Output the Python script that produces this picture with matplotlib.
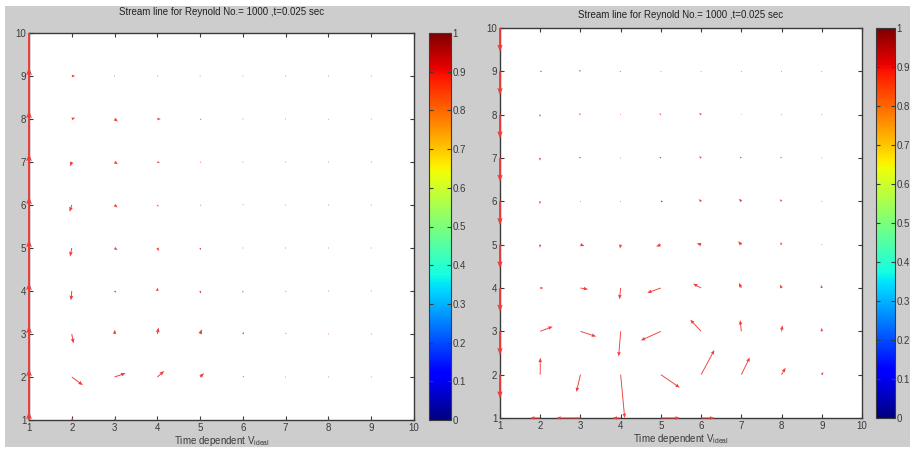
import numpy as np
import matplotlib
matplotlib.use('Agg')
import matplotlib.pyplot as plt
from matplotlib.patches import Rectangle
import matplotlib.colorbar as mcolorbar
import matplotlib.colors as mcolors

plt.rcParams['font.family'] = ['Liberation Sans', 'DejaVu Sans']

# 网格 (x=2..9, y=1..9)
grid_x = [2, 3, 4, 5, 6, 7, 8, 9]
grid_y = [1, 2, 3, 4, 5, 6, 7, 8, 9]

# 左图速度分量
left_u = [
    [0.03, 0.04, 0.0, 0.0, 0.0, 0.0, 0.0, 0.0],
    [0.26, 0.26, 0.16, 0.09, 0.03, 0.01, 0.01, 0.0],
    [0.04, 0.01, 0.03, 0.04, 0.02, 0.01, 0.0, 0.0],
    [-0.02, 0.04, 0.0, 0.02, 0.0, 0.01, 0.0, 0.0],
    [-0.04, 0.07, 0.04, 0.02, 0.01, 0.01, 0.01, 0.0],
    [-0.05, 0.07, 0.03, 0.03, 0.02, 0.01, 0.01, 0.01],
    [-0.04, 0.08, 0.06, 0.03, 0.01, 0.01, 0.01, 0.01],
    [0.08, 0.08, 0.08, 0.03, 0.01, 0.01, 0.02, 0.01],
    [0.08, 0.02, 0.02, 0.01, 0.01, 0.01, 0.01, 0.01],
]
left_v = [
    [0.05, 0.05, 0.0, 0.0, 0.0, 0.0, 0.0, 0.0],
    [-0.19, 0.09, 0.14, 0.09, 0.02, 0.01, 0.0, 0.0],
    [-0.22, 0.1, 0.15, 0.11, 0.05, 0.03, 0.0, 0.0],
    [-0.22, -0.04, 0.08, -0.06, -0.04, -0.03, 0.0, 0.0],
    [-0.2, -0.05, -0.07, -0.05, -0.01, -0.01, 0.0, 0.0],
    [-0.16, -0.06, -0.04, -0.01, 0.02, -0.01, 0.0, 0.0],
    [-0.1, -0.05, -0.02, -0.01, 0.0, 0.0, 0.0, 0.0],
    [0.03, -0.06, 0.0, -0.02, 0.0, 0.0, -0.02, 0.0],
    [0.0, 0.0, -0.01, 0.0, 0.0, 0.0, 0.0, 0.0],
]
# 左图 x=1 边界上的箭头
left_edge_y = [0, 1, 2, 3, 4, 5, 6, 7, 8, 9]
left_edge_v = [1.2, 1.2, 1.2, 1.2, 1.2, 1.2, 1.2, 1.2, 1.2, 1.2]

# 右图速度分量
right_u = [
    [-0.25, -0.6, -0.2, 0.47, 0.33, 0.05, 0.0, 0.0],
    [0.0, -0.1, 0.1, 0.47, 0.33, 0.21, 0.1, 0.04],
    [0.31, 0.39, -0.05, -0.5, -0.27, -0.03, 0.02, 0.0],
    [0.08, 0.19, -0.03, -0.34, -0.2, -0.06, -0.04, -0.02],
    [-0.01, 0.1, -0.02, -0.12, -0.11, -0.08, -0.03, 0.01],
    [-0.02, 0.01, 0.02, 0.06, -0.06, -0.06, -0.04, 0.01],
    [-0.02, -0.04, 0.02, -0.04, -0.05, -0.04, -0.03, 0.01],
    [-0.02, -0.04, 0.02, -0.04, -0.05, 0.02, 0.01, 0.01],
    [0.05, -0.04, -0.03, 0.01, 0.01, 0.01, 0.01, 0.01],
]
right_v = [
    [0.0, 0.0, 0.0, 0.0, 0.0, 0.0, 0.0, 0.0],
    [0.39, -0.4, -1.0, -0.3, 0.57, 0.4, 0.16, 0.06],
    [0.11, -0.12, -0.58, -0.21, 0.27, 0.26, 0.14, 0.08],
    [0.0, -0.03, -0.26, -0.11, 0.1, 0.12, 0.08, 0.07],
    [-0.07, -0.03, -0.09, -0.04, 0.03, 0.08, 0.06, 0.0],
    [-0.06, 0.01, 0.0, 0.0, 0.05, 0.06, 0.05, 0.01],
    [-0.06, 0.03, 0.0, 0.03, 0.04, 0.03, 0.03, 0.0],
    [-0.05, 0.03, 0.0, 0.03, 0.04, 0.01, 0.01, 0.0],
    [0.0, 0.03, -0.02, 0.0, 0.0, 0.0, 0.0, 0.0],
]
right_edge_y = [2, 3, 4, 5, 6, 7, 8, 9, 10]
right_edge_v = [-0.55, -0.55, -0.55, -0.55, -0.55, -0.55, -0.55, -0.55, -0.55]

title_text = 'Stream line for Reynold No.= 1000 ,t=0.025 sec'
ticks = [1, 2, 3, 4, 5, 6, 7, 8, 9, 10]
cbar_ticks = [0, 0.1, 0.2, 0.3, 0.4, 0.5, 0.6, 0.7, 0.8, 0.9, 1]
cbar_labels = ['0', '0.1', '0.2', '0.3', '0.4', '0.5', '0.6', '0.7', '0.8', '0.9', '1']

arrow_color = '#f03c3c'
axis_color = '#3a3a3a'

fig = plt.figure(figsize=(9.15, 4.49), dpi=100)
fig.patch.set_facecolor('white')
fig.patches.append(Rectangle((5 / 915, 2 / 449), 905 / 915, 441 / 449,
                             transform=fig.transFigure, facecolor='#cdcdcd',
                             edgecolor='none', zorder=-10))


def draw_panel(ax_rect, cb_rect, U, V, edge_y, edge_v, title_y):
    ax = fig.add_axes(ax_rect)
    X, Y = np.meshgrid(grid_x, grid_y)
    q1 = ax.quiver(X, Y, np.array(U), np.array(V), angles='xy',
                   scale_units='xy', scale=1, color=arrow_color, width=0.0025,
                   headwidth=4, headlength=5, headaxislength=4.5, zorder=3)
    q1.set_clip_path(Rectangle((0, -0.006), 1, 1.006, transform=ax.transAxes))
    ex = np.ones(len(edge_y))
    q = ax.quiver(ex, edge_y, np.zeros(len(edge_y)), edge_v, angles='xy',
                  scale_units='xy', scale=1, color=arrow_color, width=0.005,
                  headwidth=3, headlength=4, headaxislength=3.5, zorder=3)
    # 边界箭头压在左轴线上，稍微放宽裁剪区域
    clip = Rectangle((-0.01, 0), 1.02, 1, transform=ax.transAxes)
    q.set_clip_path(clip)
    ax.set_xlim(1, 10)
    ax.set_ylim(1, 10)
    ax.set_xticks(ticks)
    ax.set_yticks(ticks)
    ax.tick_params(direction='in', top=True, right=True, length=3,
                   labelsize=7, colors=axis_color, pad=2)
    for s in ax.spines.values():
        s.set_color(axis_color)
        s.set_linewidth(1.0)
    ax.set_xlabel('Time dependent V$_{\\mathregular{ideal}}$', fontsize=7,
                  color=axis_color, labelpad=1)
    fig.text(ax_rect[0] + ax_rect[2] / 2, title_y, title_text, ha='center',
             va='center', fontsize=7, color='#222222')

    cax = fig.add_axes(cb_rect)
    cb = mcolorbar.ColorbarBase(cax, cmap=plt.get_cmap('jet'),
                                norm=mcolors.Normalize(0, 1),
                                ticks=cbar_ticks)
    cb.set_ticklabels(cbar_labels)
    cb.outline.set_edgecolor(axis_color)
    cax.tick_params(direction='in', left=True, right=True, length=3,
                    labelsize=7, colors=axis_color, pad=1)
    return ax


draw_panel([29 / 915, 29 / 449, 385 / 915, 387 / 449],
           [429 / 915, 29 / 449, 22 / 915, 387 / 449],
           left_u, left_v, left_edge_y, left_edge_v, 1 - 12 / 449)
draw_panel([500 / 915, 31 / 449, 362 / 915, 390 / 449],
           [876 / 915, 31 / 449, 19 / 915, 390 / 449],
           right_u, right_v, right_edge_y, right_edge_v, 1 - 15 / 449)

fig.savefig('out.png', dpi=100, facecolor=fig.get_facecolor())
